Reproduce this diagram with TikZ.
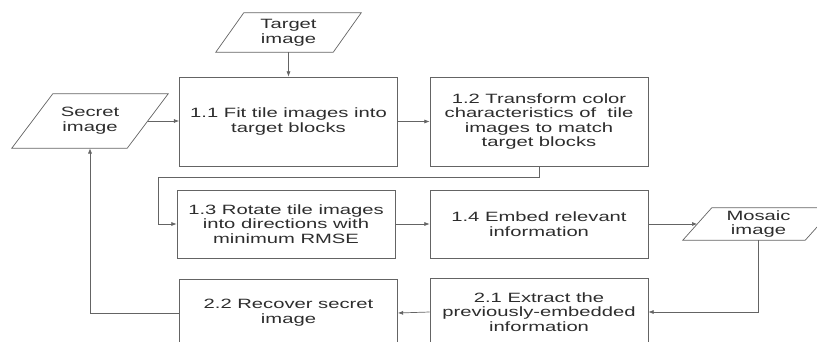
\documentclass[tikz,border=0pt]{standalone}
\usepackage{fontspec}
\setmainfont{Liberation Sans}[FakeStretch=1.5]
\usetikzlibrary{arrows.meta}

\definecolor{linegray}{RGB}{100,100,100}
\definecolor{textgray}{RGB}{45,45,45}

\tikzset{
  proc/.style={draw=linegray, line width=0.6pt, rectangle, align=center, text=textgray,
    font=\fontsize{11.5}{12.5}\selectfont, minimum width=6.54cm, inner sep=0pt},
  io/.style={rectangle, align=center, text=textgray,
    font=\fontsize{11.5}{12.5}\selectfont, inner sep=0pt},
  outline/.style={draw=linegray, line width=0.6pt, line join=miter},
  arrow/.style={draw=linegray, line width=0.6pt, -{Latex[length=4.5pt,width=3.5pt]}}
}

\begin{document}
\begin{tikzpicture}[x=0.03cm,y=-0.03cm]
\useasboundingbox (0,0) rectangle (817,342);

% input / output parallelograms
\node [io, minimum width=3.51cm, minimum height=1.17cm] (target) at (288.5,32.5) {Target\\image};
\node [io, minimum width=3.45cm, minimum height=1.62cm] (secret) at (90,121) {Secret\\image};
\node [io, minimum width=3.66cm, minimum height=0.96cm] (mosaic) at (758.5,224) {Mosaic\\image};

\draw[outline] ([xshift=0.42cm]target.north west) -- ([xshift=0.42cm]target.north east)
  -- ([xshift=-0.42cm]target.south east) -- ([xshift=-0.42cm]target.south west) -- cycle;
\draw[outline] ([xshift=0.615cm]secret.north west) -- ([xshift=0.615cm]secret.north east)
  -- ([xshift=-0.615cm]secret.south east) -- ([xshift=-0.615cm]secret.south west) -- cycle;
\draw[outline] ([xshift=0.435cm]mosaic.north west) -- ([xshift=0.435cm]mosaic.north east)
  -- ([xshift=-0.435cm]mosaic.south east) -- ([xshift=-0.435cm]mosaic.south west) -- cycle;

% process boxes
\node [proc, minimum height=2.67cm] (fit) at (288.5,121.5) {1.1 Fit tile images into\\target blocks};
\node [proc, minimum height=2.67cm] (transform) at (539,121.5) {1.2 Transform color\\characteristics of~ tile\\images to match\\target blocks};
\node [proc, minimum height=2.04cm] (rotate) at (286,224) {1.3 Rotate tile images\\into directions with\\minimum RMSE};
\node [proc, minimum height=2.04cm] (embed) at (539,224) {1.4 Embed relevant\\information};
\node [proc, minimum height=2.04cm] (extract) at (539,312) {2.1 Extract the\\previously-embedded\\information};
\node [proc, minimum height=2.04cm] (recover) at (288.5,313) {2.2 Recover secret\\image};

\coordinate (loop) at (158,177);

\draw[arrow] (target) -- (fit);
\draw[arrow] (secret.east) -- (secret.east -| fit.west);
\draw[arrow] (fit.east) -- (transform.west);
\draw[arrow] (transform.south) |- (loop) |- (rotate.west);
\draw[arrow] (rotate.east) -- (rotate.east -| embed.west);
\draw[arrow] (embed.east) -- (mosaic.west);
\draw[arrow] (mosaic.south) |- (extract.east);
\draw[arrow] (extract.west) -- (recover.east);
\draw[arrow] (recover.west) -| (secret.south);

\end{tikzpicture}
\end{document}
